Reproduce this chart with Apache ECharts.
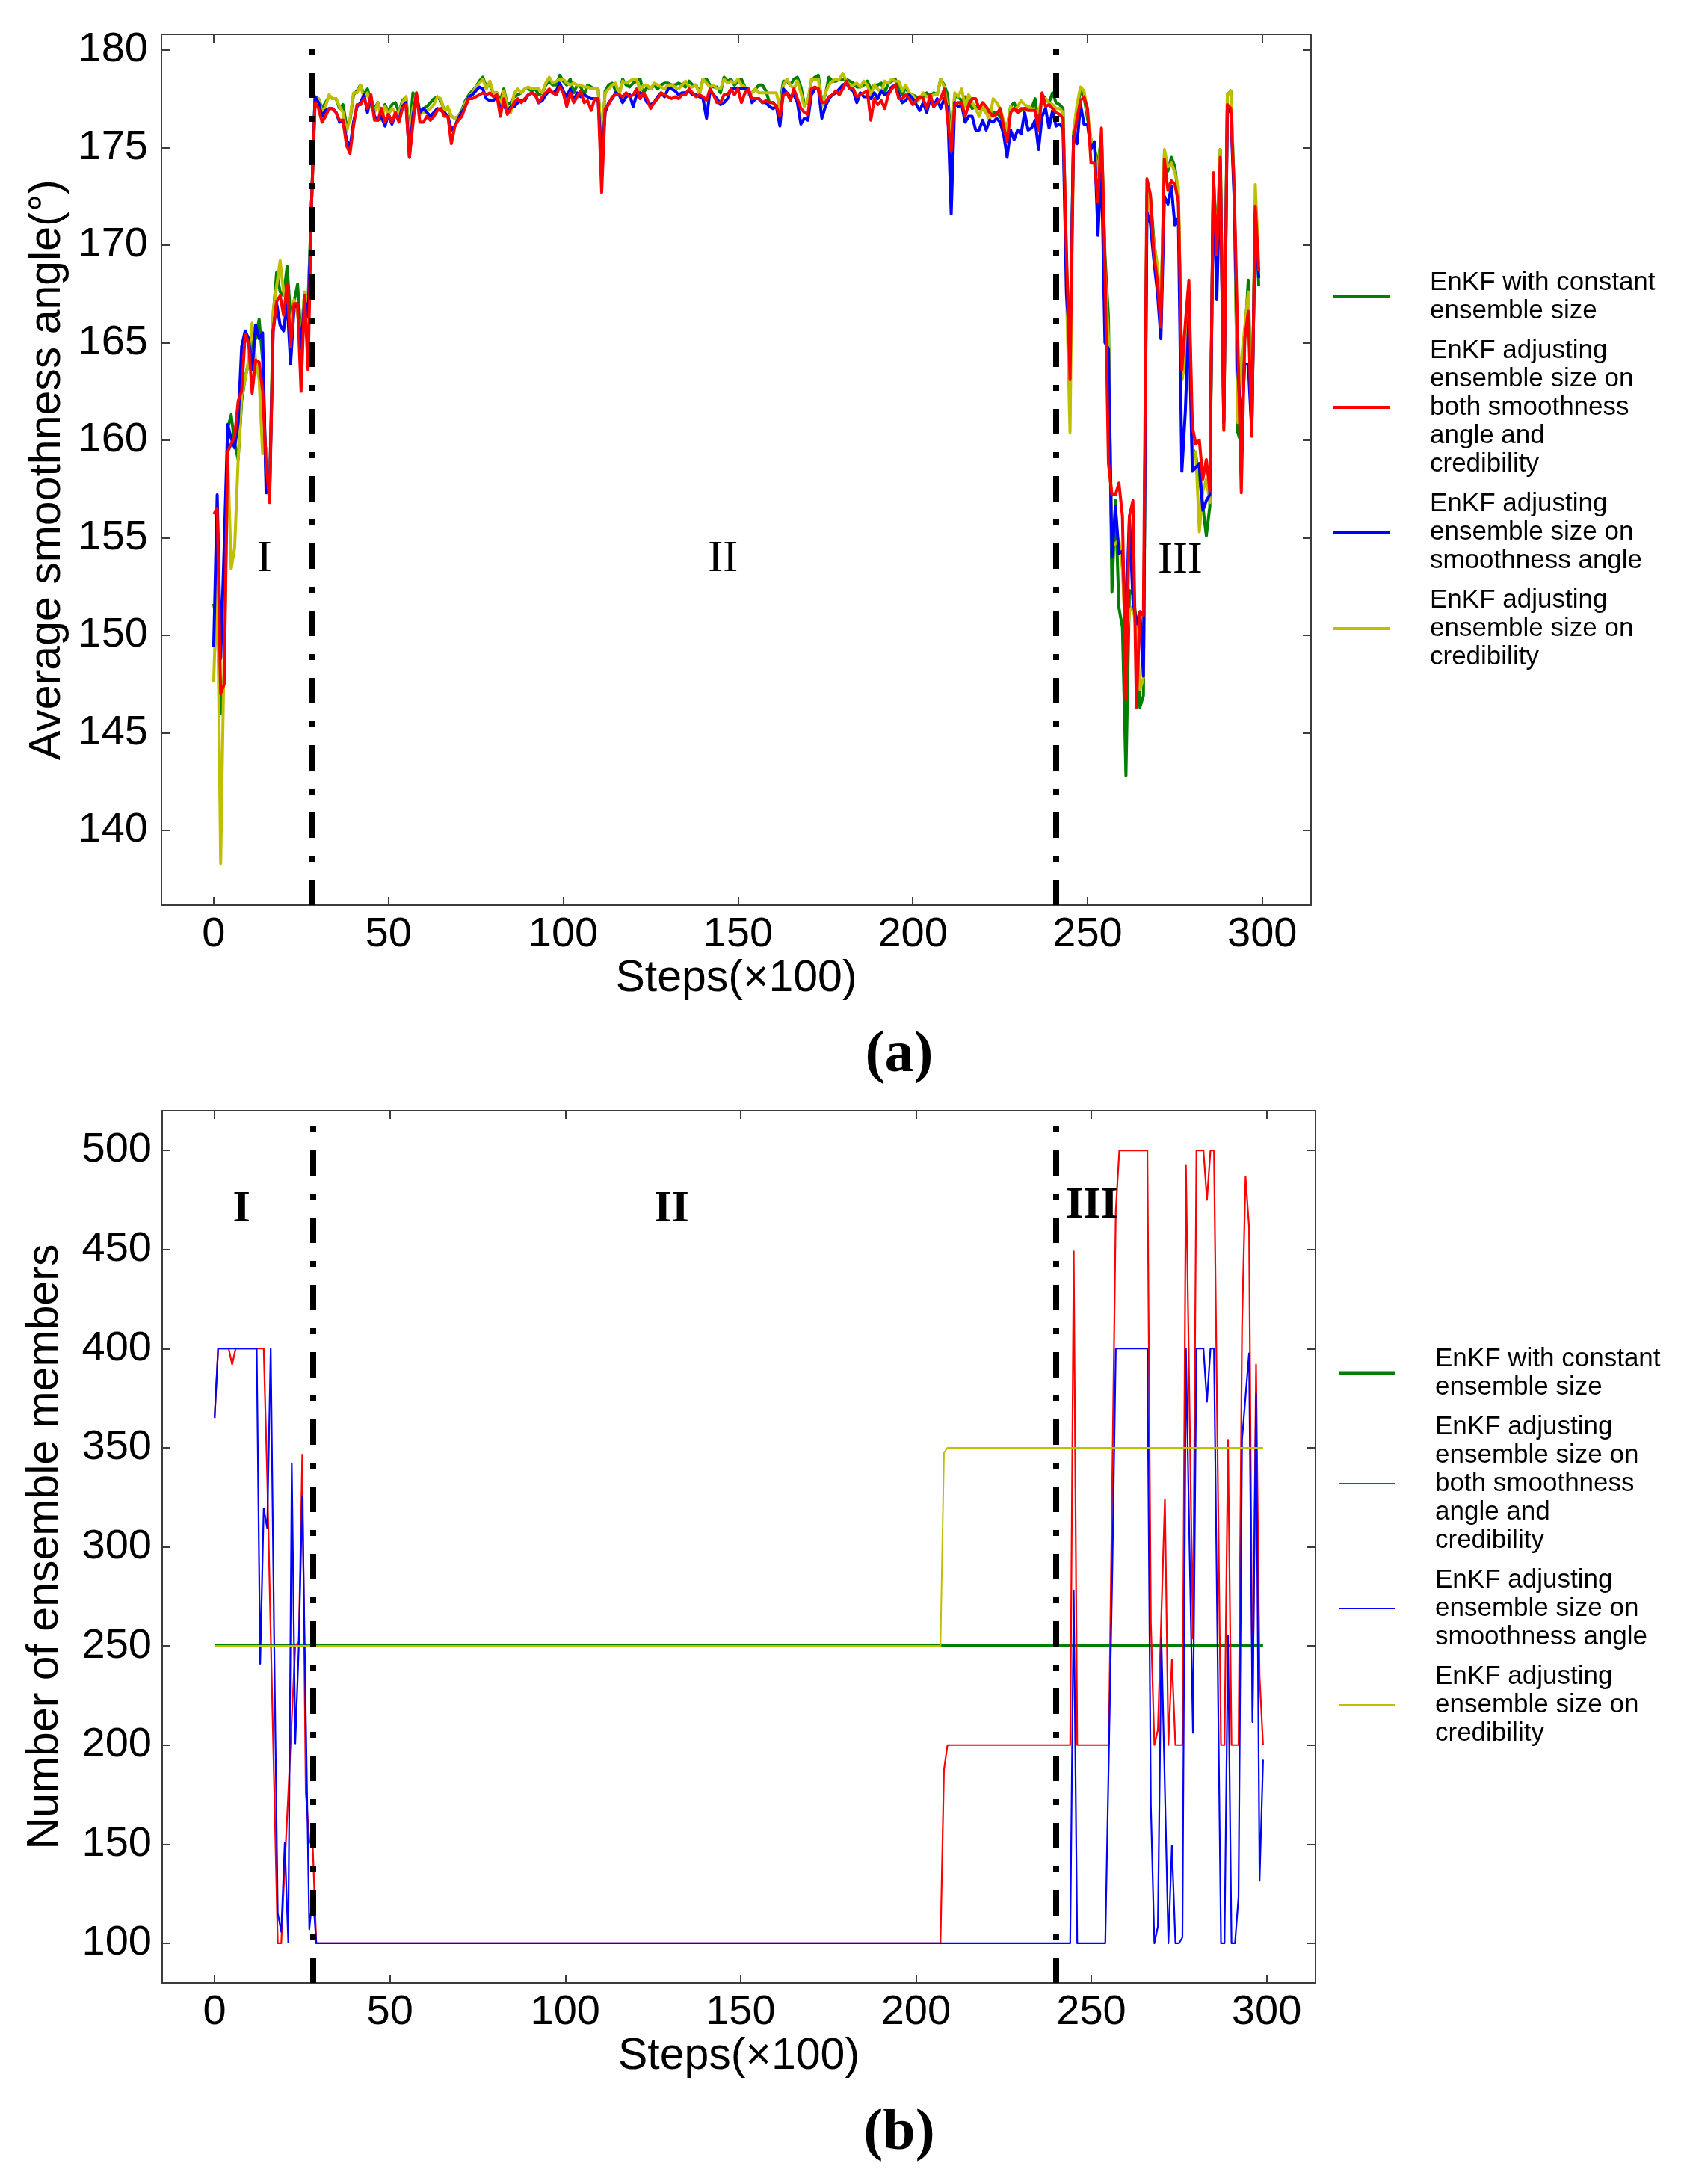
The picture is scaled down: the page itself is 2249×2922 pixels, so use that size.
<!DOCTYPE html>
<html>
<head>
<meta charset="utf-8">
<title>EnKF smoothness angle and ensemble size</title>
<script src="https://cdn.jsdelivr.net/npm/echarts@6/dist/echarts.min.js"></script>
<style>
  html, body { margin: 0; padding: 0; background: #ffffff; }
  #chart { width: 2249px; height: 2922px; }
</style>
</head>
<body>
<div id="chart"></div>
<script>
// ===== data =====
const stepTicks = [0, 50, 100, 150, 200, 250, 300];
const angleTicks = [140, 145, 150, 155, 160, 165, 170, 175, 180];
const memberTicks = [100, 150, 200, 250, 300, 350, 400, 450, 500];

const legendLabels = [
  'EnKF with constant\nensemble size',
  'EnKF adjusting\nensemble size on\nboth smoothness\nangle and\ncredibility',
  'EnKF adjusting\nensemble size on\nsmoothness angle',
  'EnKF adjusting\nensemble size on\ncredibility',
];

// (a) average smoothness angle, one value per step 0..299
const angleConstant = [
  151.6,150.5,146.0,148.0,160.6,161.3,159.8,159.0,162.0,163.2,
  164.0,165.0,165.2,166.2,164.1,158.0,157.2,166.3,168.6,167.6,
  167.4,168.9,166.3,167.1,168.0,165.2,167.5,167.1,172.2,177.6,
  177.5,177.0,177.3,177.6,177.5,177.5,177.0,177.2,176.1,176.4,
  177.7,177.9,178.2,177.7,178.0,177.3,177.0,177.3,176.7,177.2,
  176.8,177.2,177.3,176.8,177.4,177.6,175.7,177.8,177.3,176.8,
  177.0,177.1,177.3,177.5,177.6,177.4,176.9,177.0,176.6,176.5,
  176.6,176.9,177.4,177.7,177.9,178.1,178.4,178.6,178.1,178.2,
  177.8,177.8,177.4,178.0,177.2,177.3,177.6,177.7,177.8,178.0,
  178.0,177.9,178.0,177.7,177.8,178.2,178.4,178.2,178.2,178.7,
  178.4,178.2,178.5,177.8,178.2,178.1,177.7,178.2,178.1,178.0,
  178.0,175.0,177.9,178.2,178.3,177.9,177.7,178.5,178.2,178.1,
  178.3,178.4,178.5,177.8,178.1,178.0,178.2,178.0,178.2,178.3,
  178.3,178.2,178.2,178.3,178.2,178.1,178.4,178.2,178.2,177.8,
  178.5,178.5,178.2,178.1,178.1,177.8,178.6,178.4,178.5,178.2,
  178.4,178.5,178.1,177.7,177.8,178.0,178.2,178.2,177.9,177.3,
  177.3,177.1,177.2,178.4,178.4,178.2,178.5,178.6,178.1,177.2,
  177.3,178.4,178.6,178.7,177.3,177.7,178.6,178.4,178.4,178.5,
  178.5,178.5,178.4,178.3,178.1,178.1,178.2,178.4,178.0,178.2,
  178.2,178.3,177.8,178.3,178.4,178.5,178.0,177.7,178.1,177.7,
  177.7,177.6,177.5,177.6,177.8,177.6,177.8,177.7,178.5,178.2,
  177.7,175.2,177.6,177.6,177.4,177.6,177.3,177.0,177.1,177.0,
  177.0,176.8,176.9,176.8,176.8,176.6,176.3,176.0,177.1,177.3,
  176.8,176.9,177.0,177.1,177.0,177.5,176.1,177.7,177.5,177.3,
  177.8,177.3,177.2,177.0,169.0,164.1,175.7,177.0,177.9,177.6,
  176.5,175.4,175.0,174.1,175.6,169.5,166.3,152.2,156.9,151.4,
  150.4,142.8,152.3,152.1,150.7,146.3,146.9,172.6,172.5,170.2,
  168.7,166.0,174.6,173.8,174.5,174.0,172.5,163.1,164.4,167.6,
  159.6,159.2,158.1,156.6,155.1,156.6,173.7,170.1,174.9,160.9,
  177.7,177.9,172.7,160.4,159.8,165.2,168.2,160.4,172.2,167.9,
];
const angleBoth = [
  156.2,156.5,147.0,147.5,159.4,159.8,160.2,162.0,162.5,165.4,
  165.0,162.4,164.1,164.0,162.5,158.8,156.8,165.6,167.1,167.4,
  166.4,168.0,164.8,167.0,167.0,162.5,167.4,163.6,172.2,177.3,
  177.0,176.3,176.6,177.0,177.0,176.8,176.4,176.4,175.1,174.7,
  176.1,177.2,177.2,177.5,177.0,177.7,176.4,176.4,177.0,176.3,
  176.7,176.3,176.8,176.3,177.0,177.2,174.5,176.2,177.8,176.3,
  176.3,176.6,176.4,176.6,176.9,177.0,176.6,176.6,175.2,176.1,
  176.4,176.6,177.1,177.5,177.5,177.6,177.7,177.8,177.7,177.8,
  177.6,177.7,176.6,177.5,176.7,177.0,177.3,177.5,177.3,177.5,
  177.7,177.8,177.7,177.3,177.6,177.8,178.0,177.8,177.7,178.1,
  177.8,177.1,177.8,177.3,177.6,177.9,177.3,177.4,176.9,177.5,
  177.5,172.7,177.0,177.2,177.6,177.7,177.7,177.6,177.8,177.6,
  177.7,178.0,177.5,177.8,177.5,177.0,177.3,177.5,177.8,177.7,
  177.6,177.5,177.6,177.5,177.7,177.7,178.0,177.8,177.6,177.7,
  177.6,177.4,178.0,177.7,177.3,177.3,177.7,177.7,178.0,177.7,
  178.0,177.3,177.8,178.0,177.5,177.5,177.5,177.3,177.4,177.3,
  177.3,177.1,176.6,177.7,177.8,177.4,178.0,177.5,177.0,176.8,
  176.7,178.0,178.1,178.0,177.3,177.3,177.6,177.7,177.9,177.7,
  178.0,178.4,178.0,178.0,177.6,177.7,177.8,177.9,176.4,177.5,
  177.2,177.4,177.0,177.7,178.0,178.2,177.5,177.5,177.7,177.5,
  177.2,177.4,177.6,177.5,177.0,177.7,177.1,177.3,177.5,178.0,
  176.4,174.8,177.2,177.3,177.3,176.6,177.2,177.5,177.5,177.0,
  177.3,177.1,176.8,176.6,176.7,177.0,176.1,175.3,176.8,177.0,
  176.8,177.0,177.0,176.9,176.9,176.9,175.9,177.8,177.1,177.2,
  177.0,176.8,176.7,176.5,169.5,163.1,175.4,176.5,177.4,177.6,
  177.0,174.2,174.2,172.2,176.0,169.0,158.8,157.2,157.2,157.8,
  156.1,146.7,156.1,156.9,146.3,151.2,151.0,173.4,172.6,169.5,
  168.2,165.8,174.4,172.8,173.3,173.1,172.2,163.6,166.0,168.2,
  160.7,159.8,160.0,158.0,159.0,157.4,173.7,169.5,174.5,160.5,
  177.2,177.0,172.7,165.2,157.3,165.2,166.6,160.2,172.0,168.7,
];
const angleSmooth = [
  149.4,157.2,148.8,154.5,160.8,160.1,159.6,160.9,164.8,165.6,
  165.2,163.6,165.9,165.2,165.5,157.3,157.4,165.6,167.0,165.9,
  165.6,167.1,163.9,166.8,167.0,164.7,167.2,166.3,172.2,177.6,
  177.3,176.6,176.9,177.0,177.0,176.8,176.3,176.4,175.4,175.0,
  176.3,177.1,177.3,177.7,176.8,177.6,176.6,176.4,176.6,176.1,
  176.7,176.2,176.7,176.4,177.1,177.3,174.5,176.6,177.7,176.8,
  177.0,176.8,176.6,176.8,177.0,176.9,176.8,176.6,175.9,176.1,
  176.5,176.8,177.1,177.6,177.7,177.9,178.1,178.0,177.5,177.4,
  177.4,177.6,177.0,177.2,176.8,177.1,177.1,177.3,177.4,177.4,
  177.7,177.8,177.7,177.3,177.4,177.7,177.9,177.8,177.9,178.3,
  177.9,177.6,178.0,177.4,177.8,177.6,177.7,177.6,177.5,177.5,
  177.4,174.4,176.8,177.3,177.5,177.8,177.7,177.3,177.6,177.7,
  177.1,177.7,177.8,177.7,177.3,177.2,177.3,177.6,177.8,177.6,
  178.0,178.0,177.9,177.7,177.8,177.8,177.9,177.7,177.7,177.6,
  177.5,176.5,177.9,177.7,177.5,177.2,177.3,177.5,178.0,178.0,
  178.0,178.0,178.0,178.0,177.3,177.5,177.5,177.3,177.3,177.1,
  177.0,177.1,176.1,178.0,177.8,177.6,177.7,177.3,176.2,176.5,
  176.4,177.7,178.0,178.0,176.5,177.1,177.5,177.7,177.8,178.0,
  178.2,178.3,178.0,177.9,177.3,177.8,177.6,177.6,177.5,177.8,
  177.5,177.9,177.7,177.8,178.1,178.2,177.7,177.3,177.4,177.7,
  177.5,177.2,176.9,177.3,176.8,177.5,177.1,177.5,177.0,177.5,
  177.0,171.6,177.3,177.1,177.2,176.3,176.6,176.6,175.9,175.9,
  176.4,175.9,176.4,176.3,176.5,176.3,175.7,174.5,175.9,175.4,
  175.9,175.7,176.8,175.9,176.0,176.4,174.9,176.6,177.0,176.0,
  176.9,176.1,176.2,176.0,167.4,165.0,175.6,175.2,177.2,176.2,
  176.2,174.9,175.3,170.5,174.2,165.0,164.7,154.0,156.6,154.2,
  154.3,150.7,156.1,151.8,150.6,151.2,147.9,171.7,171.1,169.2,
  167.6,165.2,172.5,172.1,173.0,171.0,171.4,158.4,161.5,166.3,
  158.4,158.6,158.8,156.4,156.9,157.2,173.5,167.2,174.1,160.9,
  177.0,176.8,172.2,163.6,160.7,163.9,163.9,160.4,171.7,168.3,
];
const angleCred = [
  147.6,153.4,138.3,149.4,159.3,153.4,154.5,159.0,162.3,163.1,
  164.1,166.0,164.1,163.1,159.3,159.6,157.2,166.6,167.9,169.2,
  167.6,167.1,165.8,167.2,166.4,165.2,167.6,166.8,172.2,177.5,
  177.5,176.8,177.1,177.7,177.5,177.5,177.1,176.8,175.8,176.5,
  177.8,177.8,178.2,177.5,177.8,177.1,176.8,177.3,176.4,177.1,
  176.7,177.0,176.8,176.8,177.3,177.6,175.5,177.0,177.8,176.7,
  176.8,176.9,177.0,177.2,177.6,177.5,176.8,177.1,176.6,176.5,
  176.6,176.8,177.3,177.6,177.8,178.1,178.3,178.5,178.0,178.4,
  177.8,177.8,177.1,177.9,177.1,176.8,177.8,178.0,177.8,178.0,
  178.1,178.0,178.0,178.0,177.8,178.3,178.6,178.3,178.4,178.5,
  178.5,178.3,178.2,178.3,178.2,178.2,178.1,178.1,178.0,178.0,
  178.0,175.2,177.8,178.0,178.2,178.3,177.7,178.4,178.3,178.4,
  178.5,178.5,177.9,178.2,178.2,178.0,178.3,178.2,178.1,178.0,
  178.2,178.2,178.1,178.0,178.2,178.4,178.1,178.1,178.2,177.7,
  178.5,178.3,178.1,178.2,178.0,178.0,178.5,178.3,178.4,178.3,
  178.5,178.2,178.1,177.7,177.8,178.0,177.8,177.8,177.8,177.8,
  177.8,177.8,177.0,178.2,178.5,178.2,178.0,178.4,177.8,177.1,
  177.4,178.5,178.5,178.5,177.1,177.8,178.2,178.4,178.5,178.5,
  178.8,178.4,178.2,178.2,178.3,178.1,178.4,178.2,177.7,178.2,
  178.0,177.8,178.4,178.3,178.5,178.4,178.4,177.9,178.2,177.8,
  177.7,177.3,177.5,177.8,177.6,177.6,177.7,177.7,178.5,178.1,
  177.0,175.3,177.8,177.6,178.0,177.1,177.7,177.3,177.0,176.6,
  177.1,176.8,176.4,177.5,177.3,177.0,176.4,175.9,177.1,176.9,
  177.1,177.4,177.2,177.1,177.0,176.9,176.8,177.5,177.5,177.3,
  177.2,177.0,177.0,176.8,167.6,160.4,175.8,177.2,178.1,177.9,
  176.8,175.4,174.9,173.6,175.7,168.7,165.2,154.5,154.7,154.9,
  153.4,149.4,151.2,151.5,150.2,147.2,147.8,172.7,171.7,170.1,
  169.0,166.3,174.9,174.0,174.2,173.7,173.0,163.1,164.1,167.4,
  159.3,159.4,155.3,157.4,158.0,156.8,173.5,169.8,174.9,160.6,
  177.7,177.9,172.5,160.9,164.1,165.8,167.6,160.2,173.1,169.0,
];

// (b) number of ensemble members, [step, members] at every change of the trace
const membersConstant = [[0, 250], [299, 250]];
const membersBoth = [
  [0, 365], [1, 400], [4, 400], [5, 392], [6, 400], [14, 400], [15, 335], [16, 256], [17, 178],
  [18, 100], [19, 100], [20, 140], [21, 175], [22, 213], [23, 250], [24, 252], [25, 346.5],
  [26, 176], [27, 152], [28, 148], [29, 100], [207, 100], [208, 187.6], [209, 200], [244, 200],
  [245, 449], [246, 200], [255, 200], [256, 335], [257, 469.5], [258, 500], [266, 500],
  [267, 262], [268, 200], [269, 207.6], [270, 266], [271, 324], [272, 200], [273, 243],
  [274, 200], [276, 200], [277, 492.6], [278, 373], [279, 253.7], [280, 500], [282, 500],
  [283, 475], [284, 500], [285, 500], [286, 350], [287, 200], [288, 200], [289, 354],
  [290, 200], [292, 200], [293, 411], [294, 486.6], [295, 461.4], [296, 211.6], [297, 392],
  [298, 234.7], [299, 200],
];
const membersSmooth = [
  [0, 365], [1, 400], [12, 400], [13, 241], [14, 319.4], [15, 309.4], [16, 400], [17, 250],
  [18, 115.3], [19, 105.8], [20, 150.6], [21, 100.4], [22, 342], [23, 200.8], [24, 249.6],
  [25, 325.6], [26, 215], [27, 107], [28, 124.8], [29, 100], [244, 100], [245, 278], [246, 100],
  [254, 100], [255, 194], [256, 287], [257, 400], [266, 400], [267, 169.6], [268, 100],
  [269, 108.5], [270, 253.7], [271, 177.7], [272, 100], [273, 149.2], [274, 100], [275, 100],
  [276, 103], [277, 400], [278, 302], [279, 206.2], [280, 400], [282, 400], [283, 373.2],
  [284, 400], [285, 400], [286, 251], [287, 100], [288, 100], [289, 255], [290, 100], [291, 100],
  [292, 123.4], [293, 354], [294, 375.9], [295, 397.6], [296, 211.6], [297, 377.2],
  [298, 131.6], [299, 192.6],
];
const membersCred = [[0, 250], [207, 250], [208, 347.5], [209, 350], [299, 350]];

// phase boundaries (dash-dot lines) and phase numerals
const phaseBoundsA = [28, 241];
const phaseBoundsB = [28, 240];
const phaseNames = ['I', 'II', 'III'];
const phaseStepsA = [14.5, 145.7, 276.5];
const phaseLevelsA = [153.9, 153.9, 153.8];
const phaseStepsB = [7.7, 130.3, 250.2];
const phaseLevelsB = [470, 470, 471.8];

// ===== style constants =====
const SANS = '"Liberation Sans", Arial, sans-serif';
const SERIF = '"Liberation Serif", "Times New Roman", serif';
const COLORS = {
  constant: '#008000',
  both: '#ff0000',
  smooth: '#0000ff',
  cred: '#bfbf00',
  frame: '#3c3c3c',
  text: '#000000',
};
const seriesColors = [COLORS.constant, COLORS.both, COLORS.smooth, COLORS.cred];

// legend keys -> label text (same labels in both panels)
const keysA = ['a0', 'a1', 'a2', 'a3'];
const keysB = ['b0', 'b1', 'b2', 'b3'];
const labelOf = {};
keysA.forEach((k, i) => { labelOf[k] = legendLabels[i]; });
keysB.forEach((k, i) => { labelOf[k] = legendLabels[i]; });

// ===== axis helpers =====
const frameLine = { show: true, onZero: false, lineStyle: { color: COLORS.frame, width: 2 } };
const frameTick = (ticks) => ({
  show: true, inside: true, length: 11, customValues: ticks,
  lineStyle: { color: COLORS.frame, width: 2 },
});
const tickLabel = (ticks, margin) => ({
  show: true, customValues: ticks, margin,
  fontFamily: SANS, fontSize: 56, color: COLORS.text,
});

const stepAxis = (gridIndex, position) => ({
  type: 'value', gridIndex, position, min: -14.95, max: 313.95,
  name: position === 'bottom' ? 'Steps(×100)' : '',
  nameLocation: 'middle', nameGap: 66,
  nameTextStyle: { fontFamily: SANS, fontSize: 59, color: COLORS.text },
  axisLine: frameLine,
  axisTick: frameTick(stepTicks),
  axisLabel: position === 'bottom' ? tickLabel(stepTicks, 12) : { show: false },
  splitLine: { show: false },
});

const valueAxis = (gridIndex, position, min, max, ticks, name, nameGap, margin) => ({
  type: 'value', gridIndex, position, min, max,
  name: position === 'left' ? name : '',
  nameLocation: 'middle', nameGap,
  nameTextStyle: { fontFamily: SANS, fontSize: 59, color: COLORS.text },
  axisLine: frameLine,
  axisTick: frameTick(ticks),
  axisLabel: position === 'left' ? tickLabel(ticks, margin) : { show: false },
  splitLine: { show: false },
});

// ===== series helpers =====
const toPoints = (values) => values.map((v, i) => [i, v]);

const lineSeries = (name, data, color, width, axisIndex, extra = {}) => ({
  type: 'line', name, data,
  xAxisIndex: axisIndex, yAxisIndex: axisIndex,
  showSymbol: false, symbol: 'none', animation: false, silent: true,
  lineStyle: { color, width, cap: 'butt', join: 'round' },
  itemStyle: { color },
  ...extra,
});

const phaseLines = (bounds) => ({
  silent: true, symbol: 'none', animation: false,
  label: { show: false },
  lineStyle: { color: '#000000', width: 8, type: [34, 24, 8, 24], opacity: 1 },
  emphasis: { disabled: true },
  data: bounds.map((x) => ({ xAxis: x })),
});

// scatter items carry the numerals; the symbol itself is invisible
const phaseLabelSeries = (steps, levels, axisIndex, weight) => ({
  type: 'scatter', xAxisIndex: axisIndex, yAxisIndex: axisIndex,
  symbolSize: 1, silent: true, animation: false, z: 5,
  itemStyle: { color: 'transparent', opacity: 1 },
  data: phaseNames.map((n, i) => ({ name: n, value: [steps[i], levels[i]] })),
  label: {
    show: true, position: 'inside', formatter: '{b}', opacity: 1,
    textBorderWidth: 0, textShadowBlur: 0,
    fontFamily: SERIF, fontSize: 60, fontWeight: weight, color: COLORS.text,
  },
});

const legendBlock = (left, top, height, names) => ({
  orient: 'vertical', left, top, padding: 0, itemGap: 15,
  itemWidth: 76, itemHeight: height, icon: 'rect',
  selectedMode: false, data: names,
  formatter: (name) => labelOf[name],
  textStyle: {
    fontFamily: SANS, fontSize: 35, lineHeight: 38, color: COLORS.text,
    padding: [0, 0, 0, 48],
  },
});

// ===== chart =====
const chart = echarts.init(document.getElementById('chart'), null, { renderer: 'canvas' });

const angleSeries = [angleConstant, angleBoth, angleSmooth, angleCred];
const memberSeries = [membersConstant, membersBoth, membersSmooth, membersCred];

// panel (a): green, yellow, blue, red from back to front
const drawOrderA = [0, 3, 2, 1];
const seriesA = drawOrderA.map((i, k) => lineSeries(
  keysA[i], toPoints(angleSeries[i]), seriesColors[i], 4, 0,
  k === drawOrderA.length - 1 ? { markLine: phaseLines(phaseBoundsA) } : {}
));

// panel (b): plotted in legend order
const widthsB = [4, 2.2, 2.2, 2];
const seriesB = memberSeries.map((data, i) => lineSeries(
  keysB[i], data, seriesColors[i], widthsB[i], 1,
  i === memberSeries.length - 1 ? { markLine: phaseLines(phaseBoundsB) } : {}
));

// x/y axes: index 0 panel (a) bottom/left, 1 panel (b) bottom/left, then frame axes
const option = {
  backgroundColor: '#ffffff',
  animation: false,
  grid: [
    { left: 216, top: 46, width: 1538, height: 1165, containLabel: false },
    { left: 217, top: 1486, width: 1543, height: 1167, containLabel: false },
  ],
  xAxis: [
    stepAxis(0, 'bottom'),
    stepAxis(1, 'bottom'),
    stepAxis(0, 'top'),
    stepAxis(1, 'top'),
  ],
  yAxis: [
    valueAxis(0, 'left', 136.16, 180.8, angleTicks, 'Average smoothness angle(°)', 114, 18),
    valueAxis(1, 'left', 80, 520, memberTicks, 'Number of ensemble members', 127, 14),
    valueAxis(0, 'right', 136.16, 180.8, angleTicks, '', 0, 0),
    valueAxis(1, 'right', 80, 520, memberTicks, '', 0, 0),
  ],
  legend: [
    legendBlock(1784, 359, 4, keysA),
    legendBlock(1791, 1799, 5, [keysB[0]]),
    legendBlock(1791, 1890, 2, keysB.slice(1)),
  ],
  graphic: [
    {
      type: 'text', x: 1203, y: 1413, silent: true,
      style: { text: '(a)', font: 'bold 78px ' + SERIF, fill: COLORS.text, align: 'center', verticalAlign: 'middle' },
    },
    {
      type: 'text', x: 1203, y: 2855, silent: true,
      style: { text: '(b)', font: 'bold 78px ' + SERIF, fill: COLORS.text, align: 'center', verticalAlign: 'middle' },
    },
  ],
  series: [
    ...seriesA,
    ...seriesB,
    phaseLabelSeries(phaseStepsA, phaseLevelsA, 0, 'normal'),
    phaseLabelSeries(phaseStepsB, phaseLevelsB, 1, 'bold'),
  ],
};

chart.setOption(option);
</script>
</body>
</html>
